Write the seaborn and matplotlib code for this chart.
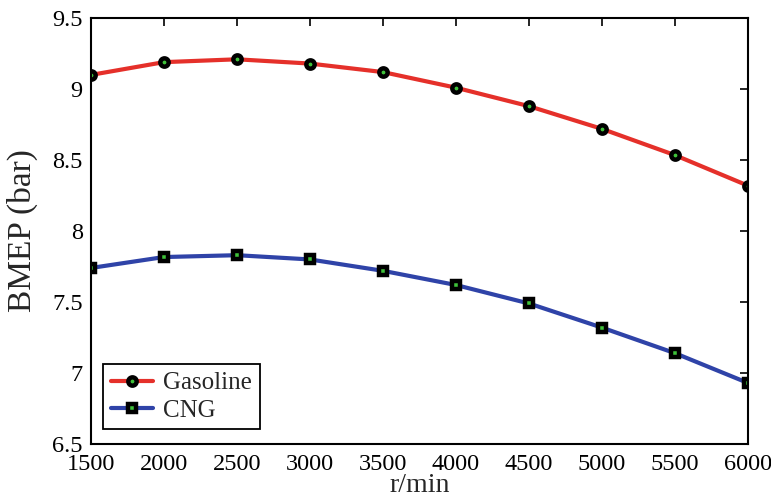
import matplotlib
matplotlib.use("Agg")
import matplotlib.pyplot as plt
import seaborn as sns
import pandas as pd

speed = [1500, 2000, 2500, 3000, 3500, 4000, 4500, 5000, 5500, 6000]
gasoline = [9.10, 9.19, 9.21, 9.18, 9.12, 9.01, 8.88, 8.72, 8.535, 8.32]
cng = [7.74, 7.817, 7.83, 7.80, 7.72, 7.62, 7.49, 7.32, 7.14, 6.93]
x_ticks = [1500, 2000, 2500, 3000, 3500, 4000, 4500, 5000, 5500, 6000]
y_ticks = [6.5, 7, 7.5, 8, 8.5, 9, 9.5]
y_tick_labels = ["6.5", "7", "7.5", "8", "8.5", "9", "9.5"]

sns.set_style("white")
plt.rcParams["font.family"] = ["Liberation Serif", "DejaVu Serif"]

df_g = pd.DataFrame({"speed": speed, "bmep": gasoline})
df_c = pd.DataFrame({"speed": speed, "bmep": cng})

fig = plt.figure(figsize=(7.71, 5.01), dpi=100)
ax = fig.add_axes([0.118, 0.1138, 0.852, 0.850])

green = "#3fc23a"
sns.lineplot(data=df_g, x="speed", y="bmep", ax=ax, color="#e5302a", linewidth=3,
             marker="o", markersize=6, markerfacecolor=green, markeredgecolor="black",
             markeredgewidth=3.2, label="Gasoline")
sns.lineplot(data=df_c, x="speed", y="bmep", ax=ax, color="#2f43a8", linewidth=3,
             marker="s", markersize=5.2, markerfacecolor=green, markeredgecolor="black",
             markeredgewidth=3.2, label="CNG")

ax.set_xlim(1500, 6000)
ax.set_ylim(6.5, 9.5)
ax.set_xticks(x_ticks)
ax.set_xticklabels([str(t) for t in x_ticks])
ax.set_yticks(y_ticks)
ax.set_yticklabels(y_tick_labels)
ax.tick_params(direction="in", length=6, width=1.2, labelsize=17.5, colors="black",
               top=True, right=True, pad=6)
ax.tick_params(axis="x", pad=7)
for s in ax.spines.values():
    s.set_visible(True)
    s.set_color("black")
    s.set_linewidth(1.5)

ax.set_xlabel("r/min", fontsize=20, labelpad=-1)
ax.set_ylabel("BMEP (bar)", fontsize=24, labelpad=10)

leg = ax.legend(loc="lower left", fontsize=18, frameon=True, fancybox=False,
                edgecolor="black", borderpad=0.3, handlelength=1.7,
                handletextpad=0.4, labelspacing=0.2,
                bbox_to_anchor=(0.0, 0.005))
leg.get_frame().set_linewidth(1.3)
leg.get_frame().set_alpha(1)

fig.savefig("out.png", dpi=100)
